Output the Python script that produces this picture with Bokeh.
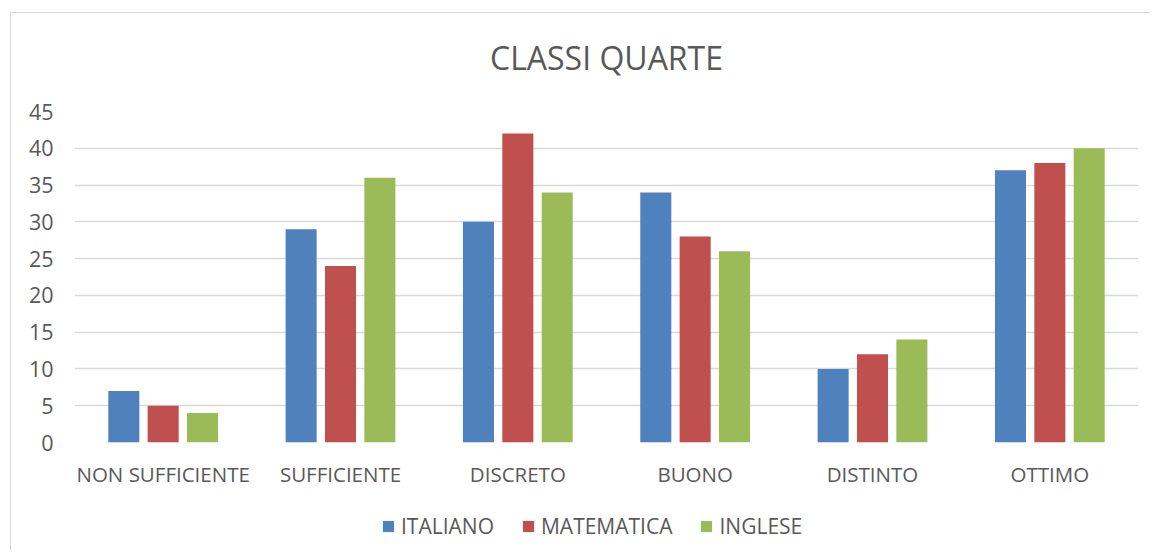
from bokeh.plotting import figure
from bokeh.models import ColumnDataSource, Legend, LegendItem, FactorRange
from bokeh.layouts import column
from bokeh.transform import dodge
from bokeh.embed import file_html
from bokeh.resources import INLINE

categories = ["NON SUFFICIENTE", "SUFFICIENTE", "DISCRETO", "BUONO", "DISTINTO", "OTTIMO"]
italiano = [7, 29, 30, 34, 10, 37]
matematica = [5, 24, 42, 28, 12, 38]
inglese = [4, 36, 34, 26, 14, 40]
series_names = ["ITALIANO", "MATEMATICA", "INGLESE"]
colors = ["#4F81BD", "#C0504D", "#9BBB59"]

FONT = "Open Sans"
TXT = "#595959"
GRID = "#D9D9D9"

src = ColumnDataSource(dict(cat=categories, ita=italiano, mat=matematica, ing=inglese))

p = figure(x_range=FactorRange(*categories, range_padding=0), y_range=(0, 45),
           width=1150, height=490, output_backend="svg", toolbar_location=None,
           min_border_left=74, min_border_right=12, min_border_top=111, min_border_bottom=48)
p.outline_line_color = None
p.background_fill_color = "white"
p.border_fill_color = None

renderers = []
for col, off, color in zip(["ita", "mat", "ing"], [-0.222, 0.0, 0.222], colors):
    r = p.vbar(x=dodge("cat", off, range=p.x_range), top=col, width=0.175, source=src,
               fill_color=color, line_color=None)
    renderers.append(r)

p.title.text = "CLASSI QUARTE"
p.title.align = "center"
p.title.text_font = FONT
p.title.text_font_size = "32px"
p.title.text_font_style = "normal"
p.title.text_color = TXT
p.title.standoff = 65

p.xgrid.grid_line_color = None
p.ygrid.grid_line_color = GRID
p.ygrid.grid_line_width = 1.5
p.yaxis.ticker = list(range(0, 50, 5))

for ax in (p.xaxis[0], p.yaxis[0]):
    ax.axis_line_color = None
    ax.major_tick_line_color = None
    ax.minor_tick_line_color = None
    ax.major_label_text_font = FONT
    ax.major_label_text_color = TXT
p.xaxis.major_label_text_font_size = "20.5px"
p.yaxis.major_label_text_font_size = "21.5px"
p.yaxis.major_label_standoff = 15
p.xaxis.major_label_standoff = 11

# legend strip below the chart (frame is aligned with the chart's frame)
lp = figure(width=1150, height=60, output_backend="svg", toolbar_location=None,
            x_range=(0, 1), y_range=(0, 1), min_border=0)
lp.axis.visible = False
lp.grid.visible = False
lp.outline_line_color = None
lp.background_fill_color = None
lp.border_fill_color = None
leg_src = ColumnDataSource(dict(x=[-10.0], top=[-10.0]))
leg_renderers = [lp.vbar(x="x", top="top", width=0.1, source=leg_src, fill_color=c, line_color=None)
                 for c in colors]
legend = Legend(items=[LegendItem(label=n, renderers=[r]) for n, r in zip(series_names, leg_renderers)],
                orientation="horizontal", location=(307, 10),
                label_text_font=FONT, label_text_font_size="21px", label_text_color=TXT,
                glyph_width=14, glyph_height=14, label_standoff=6, spacing=27,
                border_line_color=None, background_fill_alpha=0, margin=0, padding=0)
lp.add_layout(legend)

layout = column(p, lp, spacing=0)
layout.styles = {
    "background": ("linear-gradient(#D9D9D9,#D9D9D9) 10px 12px / 1px 100% no-repeat, "
                   "linear-gradient(#D9D9D9,#D9D9D9) 10px 12px / 100% 1px no-repeat, white"),
}

open("out.html", "w").write(file_html(layout, INLINE))
